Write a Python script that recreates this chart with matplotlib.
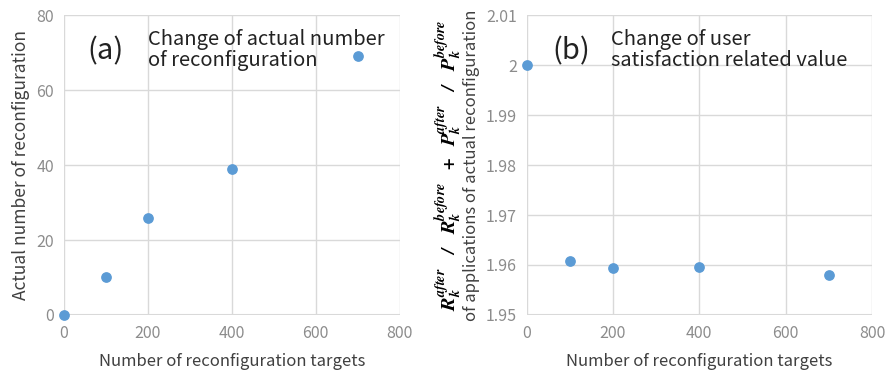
import numpy as np
import matplotlib.pyplot as plt

plt.rcParams['font.family'] = ['Noto Sans CJK JP', 'DejaVu Sans']
plt.rcParams['mathtext.fontset'] = 'stix'

# data
targets = [0, 100, 200, 400, 700]
actual_reconf = [0, 10, 26, 39, 69]
satisfaction = [2.0, 1.9608, 1.9594, 1.9595, 1.958]

dot_color = '#5b9bd5'
grid_color = '#d9d9d9'
tick_color = '#8c8c8c'
label_color = '#404040'

fig = plt.figure(figsize=(8.88, 3.79), dpi=100)
ax1 = fig.add_axes([0.072, 0.169, 0.378, 0.791])
ax2 = fig.add_axes([0.593, 0.169, 0.389, 0.791])

for ax in (ax1, ax2):
    ax.set_xlim(0, 800)
    ax.set_xticks([0, 200, 400, 600, 800])
    ax.grid(True, color=grid_color, linewidth=1)
    ax.set_axisbelow(True)
    for s in ax.spines.values():
        s.set_visible(False)
    ax.tick_params(length=0, colors=tick_color, labelsize=11.5, pad=7)
    ax.set_xlabel('Number of reconfiguration targets', fontsize=12,
                  color=label_color, labelpad=8)

# (a)
ax1.scatter(targets, actual_reconf, s=45, color=dot_color, zorder=3, clip_on=False)
ax1.set_ylim(0, 80)
ax1.set_yticks([0, 20, 40, 60, 80])
ax1.axhline(0, color=grid_color, linewidth=1.5, zorder=1)
ax1.set_ylabel('Actual number of reconfiguration', fontsize=12.5, color=label_color, labelpad=5)
ax1.text(0.07, 0.93, '(a)', transform=ax1.transAxes, fontsize=21, va='top', color='#222222')
ax1.text(0.25, 0.955, 'Change of actual number\nof reconfiguration', transform=ax1.transAxes,
         fontsize=14.5, va='top', color='#222222', linespacing=1.05)

# (b)
ax2.scatter(targets, satisfaction, s=45, color=dot_color, zorder=3, clip_on=False)
ax2.set_ylim(1.95, 2.01)
ax2.set_yticks([1.95, 1.96, 1.97, 1.98, 1.99, 2.0, 2.01])
ax2.set_yticklabels(['1.95', '1.96', '1.97', '1.98', '1.99', '2', '2.01'])
ax2.axhline(1.95, color=grid_color, linewidth=1.5, zorder=1)
ax2.set_ylabel('of applications of actual reconfiguration', fontsize=12,
               color=label_color, labelpad=4)
ax2.text(-0.225, 0.5,
         r'$\mathbfit{R_k^{after}\quad/\quad R_k^{before}\ \ +\ \ P_k^{after}\quad/\quad P_k^{before}}$',
         transform=ax2.transAxes, rotation=90, ha='center', va='center',
         fontsize=14.5, color='black')
ax2.text(0.075, 0.93, '(b)', transform=ax2.transAxes, fontsize=21, va='top', color='#222222')
ax2.text(0.245, 0.955, 'Change of user\nsatisfaction related value', transform=ax2.transAxes,
         fontsize=14.5, va='top', color='#222222', linespacing=1.05)

fig.savefig('out.png', dpi=100)
